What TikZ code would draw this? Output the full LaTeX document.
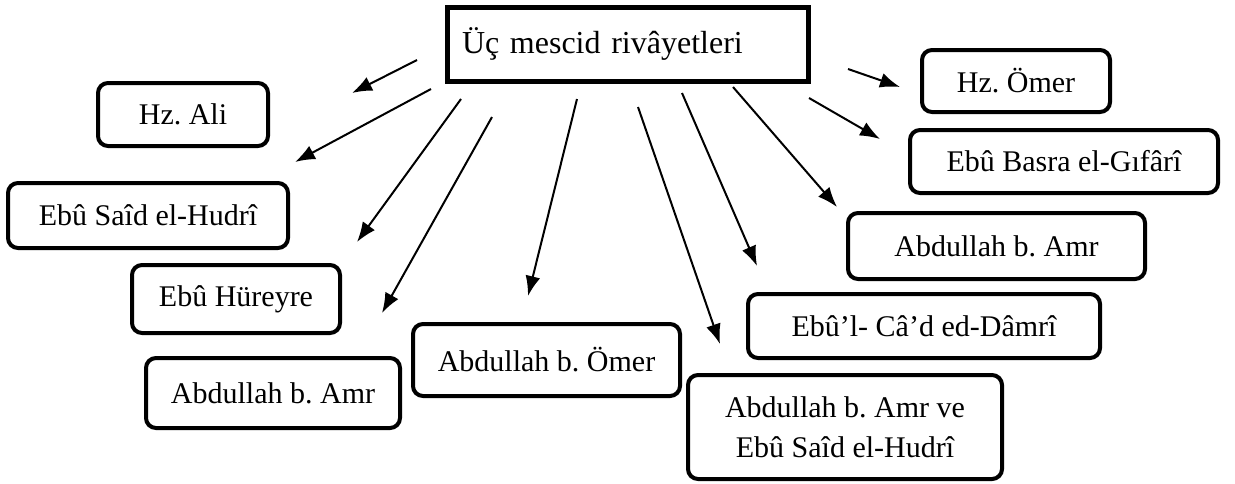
\documentclass[tikz,border=0pt]{standalone}
\usepackage{fontspec}
\setmainfont{Liberation Serif}
\usetikzlibrary{arrows.meta}
\frenchspacing
\begin{document}
\begin{tikzpicture}[x=.5pt, y=-.5pt, >={Latex[length=10pt,width=7.5pt]},
    yazi/.style={font=\fontsize{15}{20}\selectfont},
    kutu/.style={yazi, draw, line width=2pt, rounded corners=5pt, align=center, inner sep=0pt},
    ana/.style={font=\fontsize{16}{20}\selectfont, draw, line width=2.5pt, inner xsep=7.5pt, inner ysep=0pt, text width=165.5pt, align=left, minimum height=37pt},
    ok/.style={->, line width=1pt}]
    \useasboundingbox (0,0) rectangle (1235,483);
    \node[ana] (baslik) at (627.5,44) {Üç mescid rivâyetleri};
    \node[kutu, minimum width=85pt, minimum height=31.5pt] (ali) at (183,114.5) {Hz. Ali};
    \node[kutu, minimum width=140pt, minimum height=32.5pt] (ebusaid) at (148,215.5) {Ebû Saîd el-Hudrî};
    \node[kutu, minimum width=104pt, minimum height=34pt] (ebuhureyre) at (236,299) {Ebû Hüreyre};
    \node[kutu, minimum width=127pt, minimum height=35pt] (amrsol) at (273,393) {Abdullah b. Amr};
    \node[kutu, minimum width=133.5pt, minimum height=36pt] (ibnomer) at (546.5,360) {Abdullah b. Ömer};
    \node[kutu, minimum width=94pt, minimum height=31pt] (omer) at (1016,81) {Hz. Ömer};
    \node[kutu, minimum width=154pt, minimum height=31.5pt] (ebubasra) at (1064,161.5) {Ebû Basra el-Gıfârî};
    \node[kutu, minimum width=148.5pt, minimum height=33pt] (amrsag) at (996.5,246) {Abdullah b. Amr};
    \node[kutu, minimum width=176pt, minimum height=32pt] (ebucad) at (924,326) {Ebû’l- Câ’d ed-Dâmrî};
    \node[kutu, minimum width=157pt, minimum height=52pt] (amrve) at (845,427) {Abdullah b. Amr ve\\Ebû Saîd el-Hudrî};
\foreach \t/\sx/\sy/\ex/\ey in {ali/417/60/352/93, ebusaid/431/89/295/162,
    ebuhureyre/461/99/357/242, amrsol/492/117/382/313, ibnomer/577/99/528/296,
    amrve/638/107/720/344, ebucad/682/93/757/266, amrsag/733/87/837/207,
    omer/848/69/900/87, ebubasra/809/98/880/139}
{
    \coordinate (den-\t) at (\sx,\sy);
    \coordinate (ye-\t) at (\ex,\ey);
    \draw[ok] (den-\t) -- (ye-\t);
}
\end{tikzpicture}
\end{document}
